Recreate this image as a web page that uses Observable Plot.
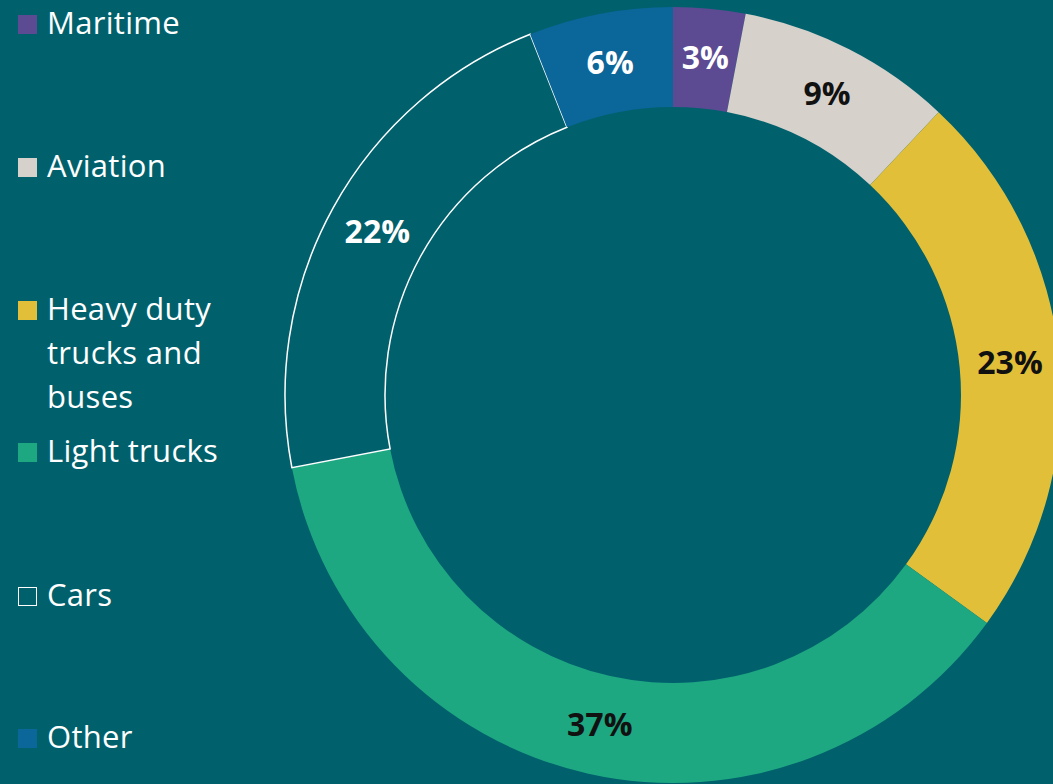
<!DOCTYPE html>
<html>
<head>
<meta charset="utf-8">
<script src="https://cdn.jsdelivr.net/npm/d3@7"></script>
<script src="https://cdn.jsdelivr.net/npm/@observablehq/plot@0.6"></script>
<style>
  html, body { margin: 0; padding: 0; background: #00616d; width: 1053px; height: 784px; overflow: hidden; }
  #wrap { position: relative; width: 1053px; height: 784px; }
  #legend { position: absolute; left: 18px; top: 0; font-family: "Open Sans", sans-serif; font-size: 31px; letter-spacing: 0.3px; color: #ffffff; }
  .item { position: absolute; left: 0; display: flex; align-items: flex-start; width: 230px; }
  .sw { width: 19px; height: 19px; flex: none; margin-top: 15px; margin-right: 10px; box-sizing: border-box; }
  .lbl { line-height: 44px; width: 180px; }
  #chart { position: absolute; left: 0; top: 0; }
</style>
</head>
<body>
<div id="wrap">
  <div id="chart"></div>
  <div id="legend"></div>
</div>
<script>
// Data
const categories = ["Maritime", "Aviation", "Heavy duty trucks and buses", "Light trucks", "Cars", "Other"];
const shares = [3, 9, 23, 37, 22, 6];
const colors = ["#5c4a93", "#d6d1cb", "#e2bf38", "#1ea882", "#00616d", "#0b669a"];
const labelColors = ["#ffffff", "#111111", "#111111", "#111111", "#ffffff", "#ffffff"];
const legendLabels = ["Maritime", "Aviation", "Heavy duty trucks and buses", "Light trucks", "Cars", "Other"];

const W = 1053, H = 784;
const cx = 673, cy = 395, rOuter = 388, rInner = 288, rLabel = 338;

const total = d3.sum(shares);
const pie = d3.pie().sort(null).value(d => d.value);
const arcs = pie(categories.map((c, i) => ({name: c, value: shares[i], label: labelColors[i]})));
const table = arcs.map(a => {
  const mid = (a.startAngle + a.endAngle) / 2;
  return {
    name: a.data.name,
    value: a.data.value,
    text: Math.round(a.data.value / total * 100) + "%",
    labelColor: a.data.label,
    startAngle: a.startAngle,
    endAngle: a.endAngle,
    lx: cx + rLabel * Math.sin(mid),
    ly: cy - rLabel * Math.cos(mid)
  };
});

const arcGen = d3.arc().innerRadius(rInner).outerRadius(rOuter);

function ringMark(index, scales, values, dimensions) {
  const sx = scales && scales.x ? scales.x : (v => v);
  const sy = scales && scales.y ? scales.y : (v => v);
  const col = scales && scales.color ? scales.color : (n => colors[categories.indexOf(n)]);
  const g = d3.create("svg:g").attr("transform", `translate(${sx(cx)},${sy(cy)})`);
  g.selectAll("path")
    .data(table)
    .join("path")
    .attr("d", d => arcGen({startAngle: d.startAngle, endAngle: d.endAngle}))
    .attr("fill", d => col(d.name))
    .attr("stroke", d => d.name === "Cars" ? "#ffffff" : "none")
    .attr("stroke-width", 1.5);
  return g.node();
}

const plot = Plot.plot({
  width: W,
  height: H,
  margin: 0,
  style: {background: "transparent", overflow: "visible"},
  x: {domain: [0, W], axis: null},
  y: {domain: [0, H], reverse: true, axis: null},
  color: {type: "ordinal", domain: categories, range: colors},
  marks: [
    Plot.dot(table, {x: "lx", y: "ly", fill: "name", r: 0}),
    ringMark,
    Plot.text(table, {
      x: "lx", y: "ly", text: "text",
      fill: d => d.labelColor,
      fontSize: 32, fontWeight: "bold",
      fontFamily: "Open Sans, sans-serif",
      textAnchor: "middle", lineAnchor: "middle"
    })
  ]
});
document.getElementById("chart").appendChild(plot);

// Legend (HTML)
const itemTops = [0, 143, 286, 428, 572, 714];
const legend = d3.select("#legend");
legendLabels.forEach((name, i) => {
  const it = legend.append("div").attr("class", "item").style("top", itemTops[i] + "px");
  const sw = it.append("div").attr("class", "sw");
  if (name === "Cars") sw.style("border", "1.5px solid #ffffff");
  else sw.style("background", plot.scale("color").apply(name));
  it.append("div").attr("class", "lbl").text(name);
});
</script>
</body>
</html>
